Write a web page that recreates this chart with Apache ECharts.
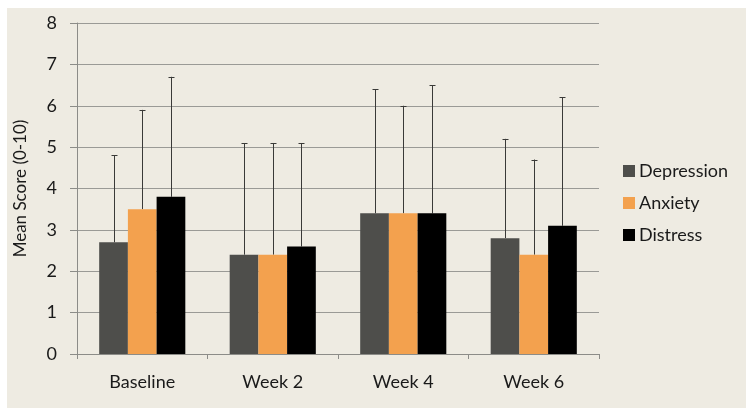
<!DOCTYPE html>
<html><head><meta charset="utf-8">
<script src="https://cdn.jsdelivr.net/npm/echarts@6/dist/echarts.min.js"></script>
<style>html,body{margin:0;padding:0;background:#fff}#c{width:754px;height:416px}</style>
</head><body><div id="c"></div>
<script>
const categories = ['Baseline', 'Week 2', 'Week 4', 'Week 6'];
const seriesNames = ['Depression', 'Anxiety', 'Distress'];
const depression = [2.7, 2.4, 3.4, 2.8];
const anxiety = [3.5, 2.4, 3.4, 2.4];
const distress = [3.8, 2.6, 3.4, 3.1];
const depressionErrTop = [4.8, 5.1, 6.4, 5.2];
const anxietyErrTop = [5.9, 5.1, 6.0, 4.7];
const distressErrTop = [6.7, 5.1, 6.5, 6.2];
const yTicks = [0, 1, 2, 3, 4, 5, 6, 7, 8];

const colors = ['#4e4e4b', '#f3a14e', '#000000'];
const values = [depression, anxiety, distress];
const errTops = [depressionErrTop, anxietyErrTop, distressErrTop];
const catGap = 0.34;
const font = 'Lato, "Open Sans", sans-serif';

const chart = echarts.init(document.getElementById('c'), null, {renderer: 'canvas'});

function errSeries(idx) {
  return {
    type: 'custom',
    name: seriesNames[idx] + ' err',
    z: 1,
    silent: true,
    data: categories.map((c, i) => [i, values[idx][i], errTops[idx][i]]),
    renderItem: function (params, api) {
      const catW = api.size([1, 0])[0];
      const bw = catW * (1 - catGap) / 3;
      const off = (idx - 1) * bw;
      const base = api.coord([api.value(0), api.value(1)]);
      const top = api.coord([api.value(0), api.value(2)]);
      const x = Math.round(base[0] + off) + 0.5;
      const style = {stroke: '#3a3a38', lineWidth: 1};
      return {
        type: 'group',
        children: [
          {type: 'line', shape: {x1: x, y1: base[1], x2: x, y2: top[1]}, style: style},
          {type: 'line', shape: {x1: x - 3, y1: Math.round(top[1]) + 0.5, x2: x + 3, y2: Math.round(top[1]) + 0.5}, style: style}
        ]
      };
    }
  };
}

const option = {
  backgroundColor: '#ffffff',
  animation: false,
  graphic: [{
    type: 'rect', z: -10, silent: true,
    shape: {x: 7, y: 8, width: 739, height: 400},
    style: {fill: '#eeebe2'}
  }],
  grid: {left: 77, right: 155, top: 23, bottom: 62},
  legend: {
    orient: 'vertical',
    left: 623,
    top: 162,
    padding: 0,
    itemWidth: 12,
    itemHeight: 12,
    itemGap: 14,
    icon: 'rect',
    data: seriesNames,
    textStyle: {fontFamily: font, fontSize: 18, color: '#1a1a1a', padding: [0, 0, 0, -1]}
  },
  xAxis: {
    type: 'category',
    data: categories,
    axisLine: {lineStyle: {color: '#8c8c88', width: 1}},
    axisTick: {show: true, length: 5, lineStyle: {color: '#8c8c88'}},
    axisLabel: {fontFamily: font, fontSize: 18, color: '#1a1a1a', margin: 19}
  },
  yAxis: {
    type: 'value',
    min: 0, max: 8, interval: 1,
    name: 'Mean Score (0-10)',
    nameLocation: 'middle',
    nameGap: 48,
    nameTextStyle: {fontFamily: font, fontSize: 17, color: '#1a1a1a'},
    axisLine: {show: true, lineStyle: {color: '#8c8c88', width: 1}},
    axisTick: {show: true, length: 7, lineStyle: {color: '#8c8c88'}},
    axisLabel: {fontFamily: font, fontSize: 18, color: '#1a1a1a', margin: 20,
      formatter: v => yTicks.includes(v) ? String(v) : ''},
    splitLine: {show: true, lineStyle: {color: '#9a9a96', width: 1}}
  },
  series: [
    ...seriesNames.map((n, i) => ({
      type: 'bar', name: n, data: values[i],
      itemStyle: {color: colors[i]},
      barGap: '0%', barCategoryGap: (catGap * 100) + '%', z: 2
    })),
    errSeries(0), errSeries(1), errSeries(2)
  ]
};
chart.setOption(option);
</script></body></html>
